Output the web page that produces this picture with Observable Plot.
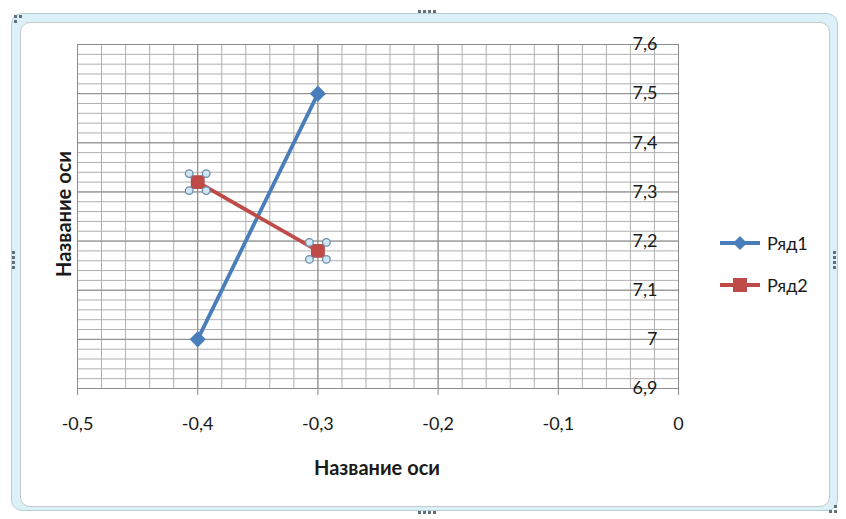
<!DOCTYPE html>
<html>
<head>
<meta charset="utf-8">
<script src="https://cdn.jsdelivr.net/npm/d3@7"></script>
<script src="https://cdn.jsdelivr.net/npm/@observablehq/plot@0.6"></script>
<style>
  html, body { margin: 0; padding: 0; background: #ffffff; }
  body { width: 846px; height: 519px; position: relative; overflow: hidden; font-family: Lato, "Open Sans", sans-serif; }
  .outer { position: absolute; left: 11px; top: 13px; width: 825px; height: 496px; background: #dcf1f7; border: 1px solid #b7cdd5; border-radius: 11px; }
  .inner { position: absolute; left: 20px; top: 22px; width: 808px; height: 483px; background: #fff; border: 1px solid #c3c8ca; border-radius: 10px; }
  .dots { position: absolute; display: flex; gap: 2px; }
  .dots span { width: 3px; height: 3px; background: #60707a; display: block; }
  .dotsV { flex-direction: column; }
  #chart { position: absolute; left: 0; top: 0; }
  .legend { position: absolute; left: 718px; top: 229px; font-family: Lato, sans-serif; font-size: 18px; color: #1a1a1a; }
  .legend .row { display: flex; align-items: center; height: 28px; margin-bottom: 14px; }
  .legend svg { margin-right: 5px; }
  .title { position: absolute; font-family: Lato, sans-serif; font-weight: bold; font-size: 20px; color: #1a1a1a; white-space: nowrap; }
</style>
</head>
<body>
<div class="outer"></div>
<div class="inner"></div>
<div class="dots" style="left:418px;top:10px"><span></span><span></span><span></span><span></span></div>
<div class="dots" style="left:418px;top:511px"><span></span><span></span><span></span><span></span></div>
<div class="dots dotsV" style="left:12px;top:251px"><span></span><span></span><span></span><span></span></div>
<div class="dots dotsV" style="left:833px;top:251px"><span></span><span></span><span></span><span></span></div>
<div class="dots" style="left:14px;top:15px"><span></span><span></span></div>
<div class="dots" style="left:14px;top:20px"><span></span></div>
<div class="dots" style="left:829px;top:510px"><span></span><span></span></div>
<div class="dots" style="left:834px;top:505px"><span></span></div>
<div id="chart"></div>
<div class="legend" id="legend"></div>
<script>
// ---- data ----
const xValues = [-0.4, -0.3];
const series1 = [7.0, 7.5];    // Ряд1
const series2 = [7.32, 7.18];  // Ряд2
const seriesNames = ["Ряд1", "Ряд2"];
const xTicks = [-0.5, -0.4, -0.3, -0.2, -0.1, 0];
const xTickLabels = ["-0,5", "-0,4", "-0,3", "-0,2", "-0,1", "0"];
const yTicks = [6.9, 7.0, 7.1, 7.2, 7.3, 7.4, 7.5, 7.6];
const yTickLabels = ["6,9", "7", "7,1", "7,2", "7,3", "7,4", "7,5", "7,6"];
const axisTitle = "Название оси";

const blue = "#4a7ebb", red = "#be4b48";
const d1 = xValues.map((x, i) => ({x, y: series1[i]}));
const d2 = xValues.map((x, i) => ({x, y: series2[i]}));
const minorX = d3.range(-0.5, 0.0001, 0.02);
const minorY = d3.range(6.9, 7.6001, 0.02);
const yTickData = yTicks.map((y, i) => ({y, label: yTickLabels[i]}));
const xTickLabelMap = new Map(xTicks.map((x, i) => [x, xTickLabels[i]]));

const handleOffsets = [[-8.5,-8.5],[8.5,-8.5],[-8.5,8.5],[8.5,8.5]];

const plot = Plot.plot({
  width: 846, height: 519,
  marginLeft: 77, marginRight: 168, marginTop: 44, marginBottom: 131,
  style: {background: "transparent", fontFamily: "Lato, sans-serif"},
  x: {domain: [-0.5, 0]},
  y: {domain: [6.9, 7.6], axis: null},
  marks: [
    Plot.ruleX(minorX, {stroke: "#b0b0b0", strokeWidth: 1}),
    Plot.ruleY(minorY, {stroke: "#b0b0b0", strokeWidth: 1}),
    Plot.ruleX(xTicks, {stroke: "#8c8c8c", strokeWidth: 1}),
    Plot.ruleY(yTicks, {stroke: "#8c8c8c", strokeWidth: 1}),
    Plot.frame({stroke: "#8c8c8c"}),
    Plot.axisX({ticks: xTicks, tickSize: 7, tickPadding: 22, tickFormat: d => xTickLabelMap.get(d), fontSize: 18, stroke: "#8c8c8c", color: "#1a1a1a", label: null}),
    Plot.text(yTickData, {x: 0, y: "y", text: "label", textAnchor: "end", dx: -21, fontSize: 18, fill: "#1a1a1a"}),
    Plot.line(d1, {x: "x", y: "y", stroke: blue, strokeWidth: 3.8}),
    Plot.line(d2, {x: "x", y: "y", stroke: red, strokeWidth: 3.8}),
    Plot.dot(d1, {x: "x", y: "y", symbol: "diamond2", r: 6.3, fill: blue, stroke: blue}),
    Plot.dot(d2, {x: "x", y: "y", symbol: "square", r: 7, fill: red, stroke: red}),
    ...handleOffsets.map(([dx, dy]) =>
      Plot.dot(d2, {x: "x", y: "y", dx, dy, r: 3.8, fill: "#cfe6f5", stroke: "#6e8ea6", strokeWidth: 1.3})
    )
  ]
});
document.getElementById("chart").appendChild(plot);

// axis titles
const tx = document.createElement("div");
tx.className = "title";
tx.textContent = axisTitle;
tx.style.left = "377px"; tx.style.top = "467px";
tx.style.transform = "translate(-50%, -50%)";
document.body.appendChild(tx);
const ty = document.createElement("div");
ty.className = "title";
ty.textContent = axisTitle;
ty.style.left = "63px"; ty.style.top = "214px";
ty.style.transform = "translate(-50%, -50%) rotate(-90deg)";
document.body.appendChild(ty);

// legend
const legend = document.getElementById("legend");
const colors = [blue, red];
const symbols = ["diamond", "square"];
seriesNames.forEach((name, i) => {
  const row = document.createElement("div");
  row.className = "row";
  const c = colors[i];
  const marker = symbols[i] === "diamond"
    ? `<polygon points="22,7 29,14 22,21 15,14" fill="${c}"/>`
    : `<rect x="15" y="7" width="14" height="14" fill="${c}"/>`;
  row.innerHTML = `<svg width="44" height="28"><line x1="2" y1="14" x2="42" y2="14" stroke="${c}" stroke-width="3.8"/>${marker}</svg><span>${name}</span>`;
  legend.appendChild(row);
});
</script>
</body>
</html>
